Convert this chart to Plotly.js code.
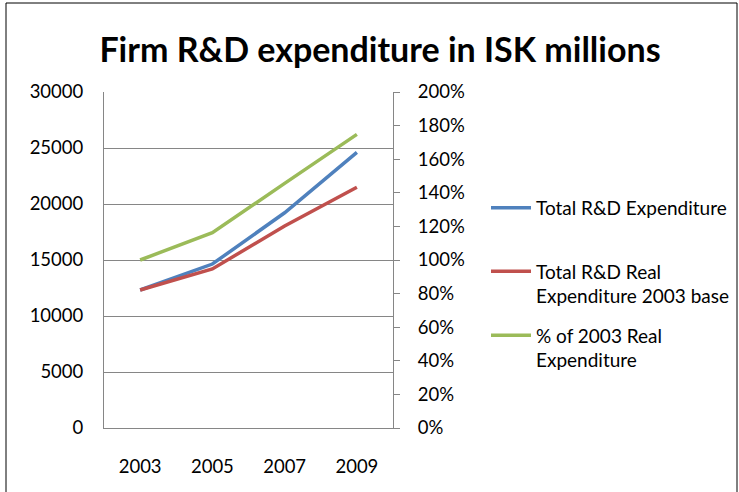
<!DOCTYPE html>
<html>
<head>
<meta charset="utf-8">
<script src="https://cdn.plot.ly/plotly-3.0.1.min.js"></script>
<style>html,body{margin:0;padding:0;background:#fff;}#chart{width:739px;height:492px;}</style>
</head>
<body>
<div id="chart"></div>
<script>
var years = ["2003", "2005", "2007", "2009"];
var totalRD = [12320, 14640, 19220, 24610];
var realRD = [12320, 14200, 18040, 21490];
var pctOf2003 = [1.00, 1.163, 1.456, 1.748];
var leftTicks = [0, 5000, 10000, 15000, 20000, 25000, 30000];
var rightTicks = [0, 0.2, 0.4, 0.6, 0.8, 1.0, 1.2, 1.4, 1.6, 1.8, 2.0];
var names = ["Total R&D Expenditure", "Total R&D Real<br>Expenditure 2003 base", "% of 2003 Real<br>Expenditure"];

var FONT = "Lato, 'Open Sans', sans-serif";
var W = 739, H = 492, L = 104, R = 739 - 393, T = 92, B = 492 - 428;
var pw = W - L - R, ph = H - T - B;
function px(x) { return (x - L) / pw; }
function py(y) { return (H - B - y) / ph; }

var traces = [
  {x: years, y: totalRD, type: "scatter", mode: "lines", name: names[0],
   line: {color: "#4F81BD", width: 3.5}, legend: "legend"},
  {x: years, y: realRD, type: "scatter", mode: "lines", name: names[1],
   line: {color: "#C0504D", width: 3.5}, legend: "legend2"},
  {x: years, y: pctOf2003, type: "scatter", mode: "lines", name: names[2], yaxis: "y2",
   line: {color: "#9BBB59", width: 3.5}, legend: "legend3"}
];

var legBase = {xanchor: "left", yanchor: "middle", bgcolor: "rgba(0,0,0,0)",
  font: {family: FONT, size: 19, color: "#000"}, itemwidth: 40, valign: "top"};

var layout = {
  width: W, height: H,
  margin: {l: L, r: R, t: T, b: B, pad: 0, autoexpand: false},
  paper_bgcolor: "#fff", plot_bgcolor: "#fff",
  font: {family: FONT, size: 18.5, color: "#000"},
  title: {text: "<b>Firm R&D expenditure in ISK millions</b>", font: {family: FONT, size: 34, color: "#000"},
          x: 380 / W, xanchor: "center", y: 1 - 50 / H, yanchor: "middle", xref: "container", yref: "container"},
  xaxis: {type: "category", range: [-0.5, 3.5], showgrid: false, showline: true, linecolor: "#868686",
          linewidth: 1, ticks: "", ticklabelstandoff: 22, zeroline: false, fixedrange: true},
  yaxis: {range: [0, 30000], tickvals: leftTicks, ticktext: leftTicks.map(String), showgrid: true,
          gridcolor: "#868686", gridwidth: 1, showline: true, linecolor: "#868686", ticks: "",
          ticklabelstandoff: 16, zeroline: false, fixedrange: true},
  yaxis2: {range: [0, 2.0], overlaying: "y", side: "right", tickvals: rightTicks,
           ticktext: rightTicks.map(function (v) { return Math.round(v * 100) + "%"; }),
           showgrid: false, showline: true, linecolor: "#868686", ticks: "outside", ticklen: 6,
           tickcolor: "#868686", ticklabelstandoff: 14, zeroline: false, fixedrange: true},
  showlegend: true,
  legend: Object.assign({}, legBase, {x: px(486), y: py(208)}),
  legend2: Object.assign({}, legBase, {x: px(486), y: py(284)}),
  legend3: Object.assign({}, legBase, {x: px(486), y: py(348)}),
  shapes: [{type: "rect", xref: "paper", yref: "paper", x0: px(6), x1: px(737), y0: py(3), y1: py(505),
            line: {color: "#000", width: 1}, fillcolor: "rgba(0,0,0,0)"}]
};

Plotly.newPlot("chart", traces, layout, {displayModeBar: false, staticPlot: true});
</script>
</body>
</html>
